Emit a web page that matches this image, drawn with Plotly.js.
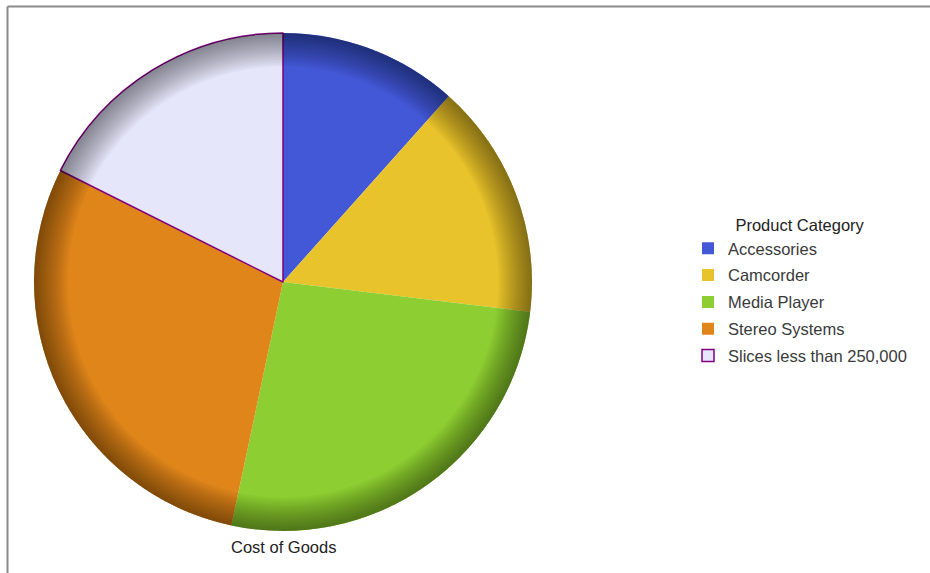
<!DOCTYPE html>
<html>
<head>
<meta charset="utf-8">
<script src="https://cdn.plot.ly/plotly-3.0.1.min.js"></script>
<style>
  html, body { margin: 0; padding: 0; background: #fff; }
  #chart { width: 930px; height: 573px; }
</style>
</head>
<body>
<div id="chart"></div>
<script>
// ---- data ----
const categories = ["Accessories", "Camcorder", "Media Player", "Stereo Systems", "Slices less than 250,000"];
const costOfGoods = [415000, 548000, 945000, 1040000, 630000];
const sliceColors = ["#4258D6", "#E8C32B", "#8DCF32", "#DF851A", "#E6E6FA"];
const sliceLineColors = ["rgba(0,0,0,0)", "rgba(0,0,0,0)", "rgba(0,0,0,0)", "rgba(0,0,0,0)", "#800080"];
const sliceLineWidths = [0, 0, 0, 0, 1.5];
const chartTitle = "Cost of Goods";
const legendTitle = "Product Category";

const W = 930, H = 573;
const pieDomain = { x: [34 / W, 532 / W], y: [1 - 531 / H, 1 - 33 / H] };

const traces = [];
traces.push({
  type: "pie",
  labels: categories,
  values: costOfGoods,
  sort: false,
  direction: "clockwise",
  rotation: 0,
  textinfo: "none",
  hoverinfo: "label+value+percent",
  showlegend: false,
  domain: pieDomain,
  marker: { colors: sliceColors, line: { color: sliceLineColors, width: sliceLineWidths } }
});

// rim shading rings (decorative overlay)
const ringCount = 18;
for (let k = 0; k < ringCount; k++) {
  const h = 0.865 + k * (0.995 - 0.865) / (ringCount - 1);
  traces.push({
    type: "pie",
    values: [1],
    labels: ["rim"],
    hole: h,
    sort: false,
    textinfo: "none",
    hoverinfo: "skip",
    showlegend: false,
    domain: pieDomain,
    marker: { colors: ["rgba(0,0,0,0.026)"], line: { width: 0 } }
  });
}

// legend entries
categories.forEach((c, i) => {
  traces.push({
    type: "scatter",
    mode: "markers",
    x: [null], y: [null],
    name: c,
    legendgroup: "g" + i,
    showlegend: true,
    hoverinfo: "skip",
    marker: { symbol: "square", size: 12, color: sliceColors[i],
              line: { color: i === 4 ? "#800080" : sliceColors[i], width: i === 4 ? 1.5 : 0 } }
  });
});

const layout = {
  width: W, height: H,
  margin: { l: 0, r: 0, t: 0, b: 0 },
  paper_bgcolor: "#ffffff",
  plot_bgcolor: "rgba(0,0,0,0)",
  font: { family: "Liberation Sans, Arial, sans-serif", size: 16.5, color: "#333333" },
  xaxis: { visible: false, range: [0, 1] },
  yaxis: { visible: false, range: [0, 1] },
  showlegend: true,
  legend: {
    x: 688 / W, xanchor: "left",
    y: 1 - 209.5 / H, yanchor: "top",
    traceorder: "grouped",
    tracegroupgap: 2.4,
    font: { family: "Liberation Sans, Arial, sans-serif", size: 16.5, color: "#3a3a3a" },
    title: { text: legendTitle, side: "top center", font: { size: 16.5, color: "#222222" } },
    bgcolor: "rgba(0,0,0,0)"
  },
  annotations: [{
    text: chartTitle, xref: "paper", yref: "paper",
    x: 283 / W, y: 1 - 547 / H, xanchor: "center", yanchor: "middle",
    showarrow: false, font: { size: 16.5, color: "#222222" }
  }],
  shapes: [
    { type: "line", xref: "paper", yref: "paper", x0: 7.5 / W, x1: 1, y0: 1 - 6.5 / H, y1: 1 - 6.5 / H,
      line: { color: "#8a8a8a", width: 2 } },
    { type: "line", xref: "paper", yref: "paper", x0: 7.5 / W, x1: 7.5 / W, y0: 0, y1: 1 - 6.5 / H,
      line: { color: "#8a8a8a", width: 2 } }
  ]
};

Plotly.newPlot("chart", traces, layout, { displayModeBar: false, staticPlot: true });
</script>
</body>
</html>
